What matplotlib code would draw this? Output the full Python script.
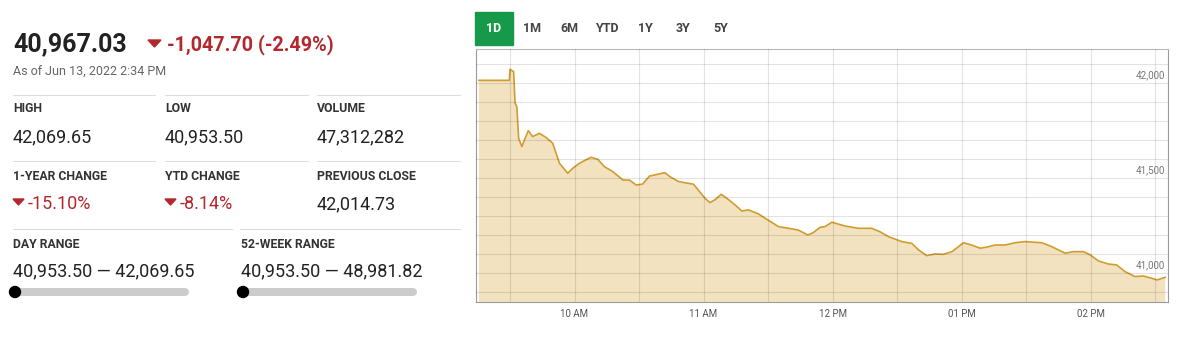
import matplotlib
matplotlib.use("Agg")
import matplotlib.pyplot as plt
from matplotlib.patches import Rectangle, Polygon, Circle

plt.rcParams["font.family"] = ["Roboto", "DejaVu Sans"]

# ---- data ----
times = ["09:15:30", "09:29:40", "09:30:00", "09:31:40", "09:32:20", "09:33:10", "09:34:00", "09:35:30", "09:36:40", "09:38:30",
         "09:40:30", "09:43:40", "09:46:40", "09:49:50", "09:53:00", "09:56:50", "09:59:10", "10:02:10", "10:07:40", "10:10:50",
         "10:13:50", "10:17:50", "10:22:30", "10:25:30", "10:28:40", "10:31:40", "10:34:50", "10:42:00", "10:44:20", "10:48:20",
         "10:55:20", "11:00:40", "11:03:00", "11:05:40", "11:08:10", "11:10:50", "11:14:40", "11:17:50", "11:20:50", "11:25:30",
         "11:29:20", "11:34:50", "11:39:30", "11:44:00", "11:48:30", "11:51:00", "11:54:10", "11:56:30", "11:59:40", "12:05:50",
         "12:12:00", "12:18:10", "12:22:00", "12:26:00", "12:32:10", "12:36:50", "12:40:00", "12:43:50", "12:47:40", "12:51:30",
         "12:55:30", "12:58:30", "13:00:50", "13:04:40", "13:08:40", "13:12:30", "13:15:30", "13:20:10", "13:24:50", "13:29:30",
         "13:37:20", "13:42:00", "13:48:10", "13:52:00", "13:56:40", "13:59:50", "14:03:40", "14:08:20", "14:12:10", "14:16:00",
         "14:20:40", "14:24:30", "14:28:30", "14:30:50", "14:34:40"]
values = [42014, 42014, 42072, 42060, 41895, 41875, 41709, 41665, 41700, 41749,
          41718, 41735, 41714, 41683, 41577, 41525, 41551, 41577, 41609, 41598,
          41560, 41533, 41489, 41489, 41463, 41468, 41510, 41528, 41507, 41481,
          41467, 41393, 41370, 41388, 41414, 41393, 41358, 41326, 41332, 41311,
          41283, 41244, 41235, 41226, 41200, 41212, 41240, 41244, 41267, 41247,
          41235, 41235, 41217, 41191, 41165, 41156, 41121, 41091, 41100, 41098,
          41112, 41138, 41159, 41147, 41130, 41138, 41147, 41147, 41159, 41165,
          41159, 41138, 41104, 41112, 41112, 41095, 41063, 41047, 41042, 41007,
          40981, 40984, 40972, 40963, 40977]

x_ticks = [10, 11, 12, 13, 14]
x_tick_labels = ["10 AM", "11 AM", "12 PM", "01 PM", "02 PM"]
y_labels = [41000, 41500, 42000]
tabs = ["1D", "1M", "6M", "YTD", "1Y", "3Y", "5Y"]

last_price = "40,967.03"
change = "-1,047.70 (-2.49%)"
as_of = "As of Jun 13, 2022 2:34 PM"
stats_row1 = [("HIGH", "42,069.65"), ("LOW", "40,953.50"), ("VOLUME", "47,312,282")]
stats_row2 = [("1-YEAR CHANGE", "-15.10%"), ("YTD CHANGE", "-8.14%"), ("PREVIOUS CLOSE", "42,014.73")]
ranges = [("DAY RANGE", "40,953.50 \u2014 42,069.65"), ("52-WEEK RANGE", "40,953.50 \u2014 48,981.82")]


def to_hours(t):
    h, m, s = t.split(":")
    return int(h) + int(m) / 60 + int(s) / 3600


hours = [to_hours(t) for t in times]

W, H = 1182, 339
fig = plt.figure(figsize=(W / 100, H / 100), dpi=100)

# overlay in pixel coordinates for the text panel and tabs
ov = fig.add_axes([0, 0, 1, 1])
ov.set_xlim(0, W)
ov.set_ylim(H, 0)
ov.axis("off")

dark = "#222222"
red = "#b3282d"
gray = "#666666"

ov.text(13, 44, last_price, fontsize=18, fontweight="bold", color=dark, va="center")
ov.add_patch(Polygon([[148, 40], [161, 40], [154.5, 47]], color=red))
ov.text(167, 45, change, fontsize=14.2, fontweight="bold", color=red, va="center")
ov.text(13, 72, as_of, fontsize=9, color=gray, va="center")

sep = "#dddddd"
for y in [94.5, 161]:
    for x0, x1 in [(13, 155), (165, 308), (317, 460)]:
        ov.plot([x0, x1], [y, y], color=sep, lw=0.8)
for x0, x1 in [(13, 232), (240, 460)]:
    ov.plot([x0, x1], [229, 229], color=sep, lw=0.8)

col_x = [13, 165, 317]
for (lab, val), x in zip(stats_row1, col_x):
    ov.text(x, 109, lab, fontsize=8.8, fontweight="bold", color="#333333", va="center")
    ov.text(x, 137, val, fontsize=13, color=dark, va="center")

for i, ((lab, val), x) in enumerate(zip(stats_row2, col_x)):
    ov.text(x, 176, lab, fontsize=8.8, fontweight="bold", color="#333333", va="center")
    if i < 2:
        ov.add_patch(Polygon([[x, 199], [x + 11, 199], [x + 5.5, 205]], color=red))
        ov.text(x + 15, 204, val, fontsize=13, color=red, va="center")
    else:
        ov.text(x, 204, val, fontsize=13, color=dark, va="center")

for (lab, val), x in zip(ranges, [13, 241]):
    ov.text(x, 244, lab, fontsize=8.8, fontweight="bold", color="#333333", va="center")
    ov.text(x, 271, val, fontsize=13, color=dark, va="center")
    ov.plot([x + 3, x + 172], [292, 292], color="#cccccc", lw=5.8, solid_capstyle="round", zorder=2)
    ov.add_patch(Circle((x + 2, 292), 5.5, color="black", zorder=3))

# tabs
tab_x = [494, 532, 569, 607, 645, 683, 721]
ov.add_patch(Rectangle((475, 12), 38, 33, color="#16994a"))
for lab, x in zip(tabs, tab_x):
    ov.text(x, 29, lab, fontsize=9, fontweight="bold", ha="center", va="center",
            color="white" if lab == "1D" else "#444444")

# ---- intraday chart ----
ax = fig.add_axes([476 / W, 1 - 302 / H, (1168 - 476) / W, (302 - 49) / H])
ax.fill_between(hours, values, 40000, color="#f3e2c0", lw=0)
ax.plot(hours, values, color="#d19d30", lw=1.2)

ax.set_xlim(to_hours("09:14:10"), to_hours("14:36:00"))
ax.set_ylim(40847, 42179)

for v in range(40900, 42200, 100):
    ax.axhline(v, color="black", alpha=0.11, lw=0.8, zorder=3)
for k in range(11):
    ax.axvline(9.5 + 0.5 * k, color="black", alpha=0.11, lw=0.8, zorder=3)

ax.set_xticks(x_ticks)
ax.set_xticklabels(x_tick_labels, fontsize=7, color="#555555")
ax.set_yticks([])
ax.tick_params(axis="x", length=0, pad=5)
for v in y_labels:
    ax.text(0.996, v + 15, f"{v:,}", transform=ax.get_yaxis_transform(),
            ha="right", va="bottom", fontsize=7, color="#777777")

for side in ["left", "right", "bottom"]:
    ax.spines[side].set_color("#9a9a9a")
    ax.spines[side].set_linewidth(0.8)
ax.spines["top"].set_color("#b8b8b8")
ax.spines["top"].set_linewidth(0.8)

fig.savefig("out.png", dpi=100)
